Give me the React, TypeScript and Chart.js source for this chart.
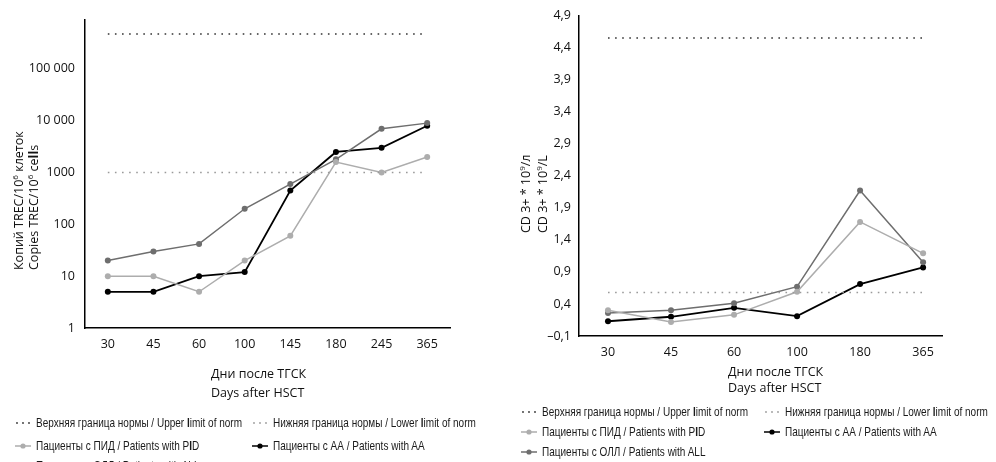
import React, { useEffect, useRef } from 'react';
import { Chart, registerables } from 'chart.js';

Chart.register(...registerables);

// ---- Left chart: TREC (log scale) ----
const trecDays = ['30', '45', '60', '100', '145', '180', '245', '365'];
const trecPID = [10, 10, 5, 20, 60, 1600, 1000, 2000];
const trecAA = [5, 5, 10, 12, 450, 2500, 3000, 8000];
const trecALL = [20, 30, 42, 200, 600, 1800, 7000, 9000];
const trecUpperLimit = 470000;
const trecLowerLimit = 1000;
const trecTicks = [1, 10, 100, 1000, 10000, 100000];

// ---- Right chart: CD3+ ----
const cdDays = ['30', '45', '60', '100', '180', '365'];
const cdPID = [0.3, 0.12, 0.23, 0.59, 1.68, 1.19];
const cdAA = [0.13, 0.2, 0.34, 0.21, 0.71, 0.97];
const cdALL = [0.26, 0.3, 0.41, 0.67, 2.17, 1.05];
const cdUpperLimit = 4.55;
const cdLowerLimit = 0.58;

const COL_PID = '#adadad';
const COL_AA = '#000000';
const COL_ALL = '#6e6e6e';
const COL_UP = '#333333';
const COL_LOW = '#9a9a9a';

const TICK_FONT = { family: "'Open Sans', 'Noto Sans', sans-serif", size: 12.5 };

function fmtThousands(v: number): string {
  if (v >= 10000) return String(v).replace(/\B(?=(\d{3})+(?!\d))/g, ' ');
  return String(v);
}

function seriesDs(label: string, data: any[], color: string, width: number) {
  return {
    label,
    data,
    borderColor: color,
    backgroundColor: color,
    borderWidth: width,
    pointRadius: 3,
    pointHoverRadius: 3,
    pointBorderWidth: 0,
    pointBackgroundColor: color,
    tension: 0,
  };
}

function limitDs(label: string, data: any[], color: string) {
  return {
    label,
    data,
    borderColor: color,
    borderWidth: 1.5,
    borderDash: [1.6, 5.5],
    borderCapStyle: 'butt' as const,
    pointRadius: 0,
    tension: 0,
  };
}

function TrecChart() {
  const ref = useRef<HTMLCanvasElement>(null);
  useEffect(() => {
    const chart = new Chart(ref.current!, {
      type: 'line',
      data: {
        labels: trecDays,
        datasets: [
          limitDs('upper', trecDays.map(() => trecUpperLimit), COL_UP),
          limitDs('lower', trecDays.map(() => trecLowerLimit), COL_LOW),
          seriesDs('PID', trecPID, COL_PID, 1.5),
          seriesDs('ALL', trecALL, COL_ALL, 1.5),
          seriesDs('AA', trecAA, COL_AA, 1.8),
        ],
      },
      options: {
        animation: false,
        responsive: false,
        maintainAspectRatio: false,
        layout: { padding: { top: 20, right: 50, left: 0, bottom: 0 } },
        plugins: { legend: { display: false }, tooltip: { enabled: false }, title: { display: false } },
        scales: {
          x: {
            type: 'category',
            offset: true,
            grid: { display: false, drawTicks: false },
            border: { display: true, color: '#000', width: 1.5 },
            ticks: { color: '#111', font: TICK_FONT, padding: 9, maxRotation: 0 },
            afterFit: (s: any) => { s.height = 462 - 328; },
          },
          y: {
            type: 'logarithmic',
            min: 1,
            max: 880000,
            grid: { display: false, drawTicks: false },
            border: { display: true, color: '#000', width: 1.5 },
            ticks: {
              color: '#111',
              font: TICK_FONT,
              padding: 10,
              callback: (v: any) => fmtThousands(Number(v)),
            },
            afterBuildTicks: (s: any) => { s.ticks = trecTicks.map((v) => ({ value: v })); },
            afterFit: (s: any) => { s.width = 85; },
          },
        },
      } as any,
    });
    return () => chart.destroy();
  }, []);
  return <canvas ref={ref} width={500} height={462} style={{ position: 'absolute', left: 0, top: 0, width: 500, height: 462 }} />;
}

function CdChart() {
  const ref = useRef<HTMLCanvasElement>(null);
  useEffect(() => {
    const pts = (arr: number[]) => arr.map((v, i) => ({ x: i, y: v }));
    const lim = (v: number) => [{ x: 0, y: v }, { x: cdDays.length - 1, y: v }];
    const chart = new Chart(ref.current!, {
      type: 'line',
      data: {
        datasets: [
          limitDs('upper', lim(cdUpperLimit), COL_UP),
          limitDs('lower', lim(cdLowerLimit), COL_LOW),
          seriesDs('PID', pts(cdPID), COL_PID, 1.5),
          seriesDs('ALL', pts(cdALL), COL_ALL, 1.5),
          seriesDs('AA', pts(cdAA), COL_AA, 1.8),
        ],
      },
      options: {
        animation: false,
        responsive: false,
        maintainAspectRatio: false,
        layout: { padding: { top: 15, right: 54, left: 0, bottom: 0 } },
        plugins: { legend: { display: false }, tooltip: { enabled: false }, title: { display: false } },
        scales: {
          x: {
            type: 'linear',
            min: -0.46,
            max: 5.3,
            grid: { display: false, drawTicks: false },
            border: { display: true, color: '#000', width: 1.5 },
            ticks: {
              color: '#111',
              font: TICK_FONT,
              padding: 9,
              maxRotation: 0,
              callback: (v: any) => cdDays[Math.round(Number(v))] ?? '',
            },
            afterBuildTicks: (s: any) => { s.ticks = cdDays.map((_, i) => ({ value: i })); },
            afterFit: (s: any) => { s.height = 462 - 336; },
          },
          y: {
            type: 'linear',
            min: -0.1,
            max: 4.9,
            grid: { display: false, drawTicks: false },
            border: { display: true, color: '#000', width: 1.5 },
            ticks: {
              color: '#111',
              font: TICK_FONT,
              padding: 8,
              stepSize: 0.5,
              callback: (v: any) => Number(v).toFixed(1).replace('.', ',').replace('-', '–'),
            },
            afterFit: (s: any) => { s.width = 79; },
          },
        },
      } as any,
    });
    return () => chart.destroy();
  }, []);
  return <canvas ref={ref} width={496} height={462} style={{ position: 'absolute', left: 500, top: 0, width: 496, height: 462 }} />;
}

const LEG_FONT = "'Liberation Sans', Arial, sans-serif";

function Marker({ kind, color }: { kind: 'dots' | 'line'; color: string }) {
  if (kind === 'dots') {
    return (
      <svg width={16} height={8} style={{ display: 'block' }}>
        <circle cx={2} cy={4} r={0.9} fill={color} />
        <circle cx={8} cy={4} r={0.9} fill={color} />
        <circle cx={14} cy={4} r={0.9} fill={color} />
      </svg>
    );
  }
  return (
    <svg width={16} height={8} style={{ display: 'block' }}>
      <line x1={0} y1={4} x2={16} y2={4} stroke={color} strokeWidth={1.5} />
      <circle cx={8} cy={4} r={2.6} fill={color} />
    </svg>
  );
}

function LegendItem({ x, y, kind, color, children }: { x: number; y: number; kind: 'dots' | 'line'; color: string; children: any }) {
  return (
    <div style={{ position: 'absolute', left: x - 21, top: y - 8, height: 16, display: 'flex', alignItems: 'center', whiteSpace: 'nowrap', fontFamily: LEG_FONT, fontSize: 13, color: '#1a1a1a' }}>
      <div style={{ width: 16, marginRight: 5 }}><Marker kind={kind} color={color} /></div>
      <span style={{ display: 'inline-block', transform: 'scaleX(0.77)', transformOrigin: '0 50%' }}>{children}</span>
    </div>
  );
}

const TITLE_FONT = "'Open Sans', 'Noto Sans', sans-serif";

function Sup({ children }: { children: any }) {
  return <span style={{ fontSize: 8, position: 'relative', top: -5, lineHeight: 0 }}>{children}</span>;
}

export default function App() {
  return (
    <div style={{ position: 'fixed', left: 0, top: 0, width: 996, height: 462, overflow: 'hidden', background: '#fff' }}>
      <TrecChart />
      <CdChart />

      {/* Left y-axis title */}
      <div style={{ position: 'absolute', left: 10.5, top: 270, transform: 'rotate(-90deg)', transformOrigin: '0 0', whiteSpace: 'nowrap', fontFamily: TITLE_FONT, fontSize: 12.5, lineHeight: '15px', color: '#111' }}>
        <div style={{ height: 15 }}>Копий TREC/10<Sup>6</Sup> клеток</div>
        <div style={{ height: 15 }}>Copies TREC/10<Sup>6</Sup> ce<b>ll</b>s</div>
      </div>
      {/* Right y-axis title */}
      <div style={{ position: 'absolute', left: 516.5, top: 233, transform: 'rotate(-90deg)', transformOrigin: '0 0', whiteSpace: 'nowrap', fontFamily: TITLE_FONT, fontSize: 12.5, lineHeight: '17px', color: '#111' }}>
        <div style={{ height: 17 }}>CD 3+ * 10<Sup>9</Sup>/л</div>
        <div style={{ height: 17 }}>CD 3+ * 10<Sup>9</Sup>/L</div>
      </div>

      {/* X-axis titles */}
      <div style={{ position: 'absolute', left: 211, top: 363.5, whiteSpace: 'nowrap', fontFamily: TITLE_FONT, fontSize: 12.5, lineHeight: '19px', color: '#111' }}>
        <div>Дни после ТГСК</div>
        <div>Days after HSCT</div>
      </div>
      <div style={{ position: 'absolute', left: 728, top: 363.5, whiteSpace: 'nowrap', fontFamily: TITLE_FONT, fontSize: 12.5, lineHeight: '16.5px', color: '#111' }}>
        <div>Дни после ТГСК</div>
        <div>Days after HSCT</div>
      </div>

      {/* Left legend */}
      <LegendItem x={36} y={422.7} kind="dots" color={COL_UP}>Верхняя граница нормы / Upper <b>l</b>imit of norm</LegendItem>
      <LegendItem x={273} y={422.7} kind="dots" color={COL_LOW}>Нижняя граница нормы / Lower <b>l</b>imit of norm</LegendItem>
      <LegendItem x={36} y={445.7} kind="line" color={COL_PID}>Пациенты с ПИД / Patients with P<b>I</b>D</LegendItem>
      <LegendItem x={273} y={445.7} kind="line" color={COL_AA}>Пациенты с АА / Patients with AA</LegendItem>
      <LegendItem x={36} y={465} kind="line" color={COL_ALL}>Пациенты с ОЛЛ / Patients with ALL</LegendItem>

      {/* Right legend */}
      <LegendItem x={542} y={411.7} kind="dots" color={COL_UP}>Верхняя граница нормы / Upper <b>l</b>imit of norm</LegendItem>
      <LegendItem x={785} y={411.7} kind="dots" color={COL_LOW}>Нижняя граница нормы / Lower <b>l</b>imit of norm</LegendItem>
      <LegendItem x={542} y={431.7} kind="line" color={COL_PID}>Пациенты с ПИД / Patients with P<b>I</b>D</LegendItem>
      <LegendItem x={785} y={431.7} kind="line" color={COL_AA}>Пациенты с АА / Patients with AA</LegendItem>
      <LegendItem x={542} y={451.5} kind="line" color={COL_ALL}>Пациенты с ОЛЛ / Patients with ALL</LegendItem>
    </div>
  );
}
